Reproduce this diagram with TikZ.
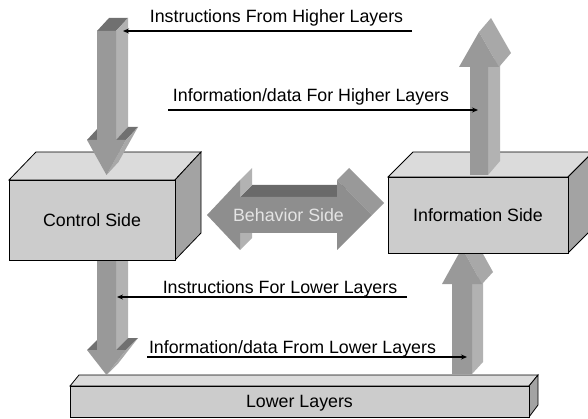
\documentclass[tikz,border=0pt]{standalone}
\usepackage{fontspec}
\setmainfont{Liberation Sans}
\usetikzlibrary{arrows.meta}

\definecolor{facemid}{RGB}{153,153,153}
\definecolor{facelight}{RGB}{178,178,178}
\definecolor{faceslant}{RGB}{168,168,168}
\definecolor{facedark}{RGB}{112,112,112}
\definecolor{behavmid}{RGB}{142,142,142}
\definecolor{behavdark}{RGB}{106,106,106}
\definecolor{behavtext}{RGB}{228,228,228}

\tikzset{
  boxfront/.style={draw=black,line width=0.8pt,fill=gray!40},
  boxtop/.style={draw=black,line width=0.8pt,fill=gray!28},
  boxside/.style={draw=black,line width=0.8pt,fill=gray!72},
  arrfront/.style={fill=facemid},
  arrlight/.style={fill=facelight},
  arrslant/.style={fill=faceslant},
  arrdark/.style={fill=facedark},
  lbl/.style={anchor=base,inner sep=0pt,font=\fontsize{17.8}{20}\selectfont},
  conn/.style={line width=1.3pt,-{Stealth[length=6pt,width=5pt]}}
}

\begin{document}
\begin{tikzpicture}[x=1pt,y=-1pt]
\useasboundingbox (0,0) rectangle (588,419);
\clip (0,0) rectangle (588,419);

% lower layers slab
\draw[boxtop] (70,386)--(79,375)--(538,375)--(529,386)--cycle;
\draw[boxside] (529,386)--(538,375)--(538,405)--(529,417)--cycle;
\draw[boxfront] (70,386) rectangle (529,417);
\node[lbl] (lower) at (299.5,407) {Lower Layers};

% control side -> lower layers
\fill[arrlight] (116,250)--(128,238)--(128,338)--(116,350)--cycle;
\fill[arrdark] (87,350)--(97,350)--(109,338)--(99,338)--cycle;
\fill[arrdark] (116,350)--(126,350)--(138,338)--(128,338)--cycle;
\fill[arrslant] (126,350)--(106.5,375)--(118.5,363)--(138,338)--cycle;
\fill[arrfront] (97,250)--(116,250)--(116,350)--(126,350)--(106.5,375)--(87,350)--(97,350)--cycle;

% lower layers -> information side
\fill[arrlight] (472,374)--(483,362)--(483,272)--(472,284)--cycle;
\fill[arrslant] (482,284)--(462,248)--(473,236)--(493,272)--cycle;
\fill[arrfront] (452,374)--(472,374)--(472,284)--(482,284)--(462,248)--(442,284)--(452,284)--cycle;

% control side box
\draw[boxtop] (9,180)--(36,152)--(201,152)--(175,180)--cycle;
\draw[boxside] (175,180)--(201,152)--(201,233)--(175,260)--cycle;
\draw[boxfront] (9,180) rectangle (175,260);
\node[lbl] (ctrl) at (92,226.5) {Control Side};

% information side box
\draw[boxtop] (388,177)--(413,152)--(593,152)--(568,177)--cycle;
\draw[boxside] (568,177)--(593,152)--(593,228)--(568,253)--cycle;
\draw[boxfront] (388,177) rectangle (568,253);
\node[lbl] (info) at (478,222) {Information Side};

% higher layers -> control side
\fill[arrdark] (97,31)--(116,31)--(128,18)--(109,18)--cycle;
\fill[arrlight] (116,31)--(128,18)--(128,127)--(116,140)--cycle;
\fill[arrdark] (87,140)--(97,140)--(109,127)--(99,127)--cycle;
\fill[arrdark] (116,140)--(126,140)--(138,127)--(128,127)--cycle;
\fill[arrslant] (126,140)--(106.5,175)--(118.5,162)--(138,127)--cycle;
\fill[arrfront] (97,31)--(116,31)--(116,140)--(126,140)--(106.5,175)--(87,140)--(97,140)--cycle;

% information side -> higher layers
\fill[arrlight] (488,175)--(500,161)--(500,53)--(488,67)--cycle;
\fill[arrslant] (499,67)--(479,32)--(491,18)--(511,53)--cycle;
\fill[arrfront] (470,175)--(488,175)--(488,67)--(499,67)--(479,32)--(459,67)--(470,67)--cycle;

% behavior side, both ways
\fill[behavdark] (240,197)--(337,197)--(349,185)--(252,185)--cycle;
\fill[arrlight] (240,180)--(240,197)--(252,185)--(252,168)--cycle;
\fill[arrlight] (240,233)--(240,250)--(252,238)--(252,221)--cycle;
\fill[facemid] (337,180)--(372,215)--(384,203)--(349,168)--cycle;
\fill[behavmid] (207,215)--(240,180)--(240,197)--(337,197)--(337,180)--(372,215)--(337,250)--(337,233)--(240,233)--(240,250)--cycle;
\node[lbl,text=behavtext] (behav) at (288.5,222) {Behavior Side};

% labels and pointers
\node[lbl] (hiIn) at (276.5,23) {Instructions From Higher Layers};
\node[lbl] (hiOut) at (311,102) {Information/data For Higher Layers};
\node[lbl] (loIn) at (280,293) {Instructions For Lower Layers};
\node[lbl] (loOut) at (292.5,353) {Information/data From Lower Layers};

\coordinate (hiInR) at (412,31);
\coordinate (hiInL) at (123,31);
\coordinate (hiOutL) at (168,110);
\coordinate (hiOutR) at (478,110);
\coordinate (loInR) at (407,297);
\coordinate (loInL) at (117,297);
\coordinate (loOutL) at (147,357);
\coordinate (loOutR) at (467,357);

\draw[conn] (hiInR) -- (hiInL);
\draw[conn] (hiOutL) -- (hiOutR);
\draw[conn] (loInR) -- (loInL);
\draw[conn] (loOutL) -- (loOutR);
\end{tikzpicture}
\end{document}
